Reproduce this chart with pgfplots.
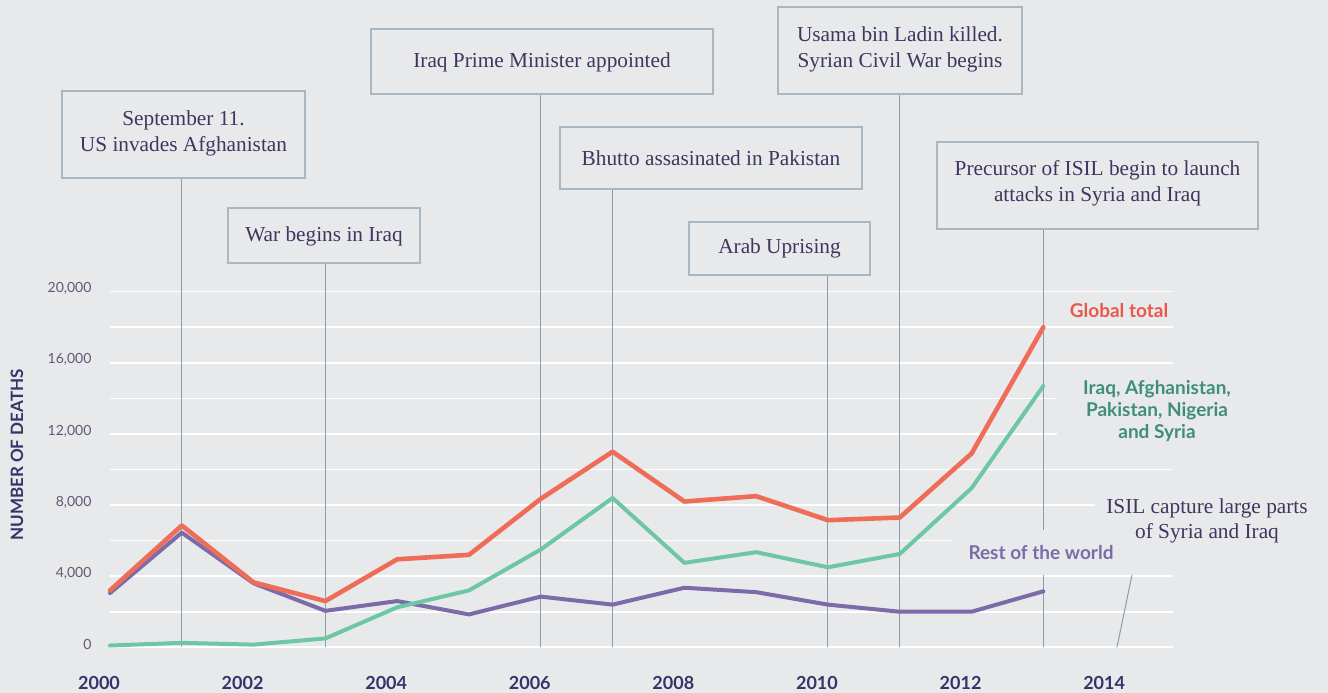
\documentclass[border=0pt]{standalone}
\usepackage{fontspec}
\setmainfont{Liberation Serif}
\newfontfamily\lato{Lato}
\usepackage{pgfplots}
\pgfplotsset{compat=1.18}
\definecolor{bg}{HTML}{E8E9EB}
\definecolor{redl}{HTML}{EE6C58}
\definecolor{greenl}{HTML}{6DC7A4}
\definecolor{purpl}{HTML}{7B6BA8}
\definecolor{navy}{HTML}{35346A}
\definecolor{boxtext}{HTML}{3D3660}
\definecolor{ticklab}{HTML}{5F5A75}
\definecolor{boxline}{HTML}{A8B7C4}
\definecolor{vline}{HTML}{8A9CAE}
\definecolor{greentxt}{HTML}{3F8E79}
\definecolor{redtxt}{HTML}{E9584A}
\tikzset{
  evbox/.style={draw=boxline, line width=1.2pt, fill=bg},
  evtext/.style={text=boxtext, font=\fontsize{21.3}{26}\selectfont, align=center, inner sep=0pt},
  lab/.style={font=\lato\bfseries\fontsize{19}{22}\selectfont, align=center},
  vl/.style={draw=vline, line width=1pt}
}
\begin{document}
\begin{tikzpicture}[x=1pt,y=1pt]
\fill[bg] (0,0) rectangle (1328,693);
\useasboundingbox (0,0) rectangle (1328,693);
\begin{axis}[at={(110pt,45.7pt)}, anchor=south west, scale only axis,
  width=1062.6pt, height=355.6pt,
  xmin=2000, xmax=2014.8, ymin=0, ymax=20000,
  axis line style={draw=none}, major tick length=0pt, minor tick length=0pt,
  xtick={2000,2002,...,2014},
  xticklabels={2000,2002,2004,2006,2008,2010,2012,2014},
  ytick={0,4000,...,20000},
  yticklabels={0,{4,000},{8,000},{12,000},{16,000},{20,000}},
  minor ytick={2000,6000,...,18000},
  ymajorgrids, yminorgrids,
  major grid style={white, line width=1.6pt},
  minor grid style={white, line width=1.6pt},
  xticklabel style={font=\lato\bfseries\fontsize{18}{18}\selectfont, text=navy, anchor=base, xshift=-11pt, yshift=-42pt},
  yticklabel style={font=\lato\fontsize{14}{14}\selectfont, text=ticklab, anchor=east, xshift=-15pt, yshift=3pt},
  scaled y ticks=false, clip=false]
\draw[vl] (axis cs:2001,0) -- (axis cs:2001,26394);
\draw[vl] (axis cs:2003,0) -- (axis cs:2003,21613);
\draw[vl] (axis cs:2006,0) -- (axis cs:2006,31118);
\draw[vl] (axis cs:2007,0) -- (axis cs:2007,25775);
\draw[vl] (axis cs:2010,0) -- (axis cs:2010,20938);
\draw[vl] (axis cs:2011,0) -- (axis cs:2011,31118);
\draw[vl] (axis cs:2013,0) -- (axis cs:2013,4066);
\draw[vl] (axis cs:2013,6597) -- (axis cs:2013,23525);
\draw[vl] (axis cs:2014.025,0) -- (axis cs:2014.234,4066);
% Rest of the world
\addplot[purpl, line width=4pt, line join=round, line cap=round] coordinates {
(2000,3050) (2001,6450) (2002,3600) (2003,2050) (2004,2600) (2005,1850) (2006,2850)
(2007,2400) (2008,3350) (2009,3100) (2010,2400) (2011,2000) (2012,2000) (2013,3150)};
% Five countries
\addplot[greenl, line width=4pt, line join=round, line cap=round] coordinates {
(2000,100) (2001,250) (2002,150) (2003,500) (2004,2250) (2005,3200) (2006,5500)
(2007,8400) (2008,4750) (2009,5350) (2010,4500) (2011,5250) (2012,8950) (2013,14700)};
% Global total
\addplot[redl, line width=4.6pt, line join=round, line cap=round] coordinates {
(2000,3200) (2001,6850) (2002,3650) (2003,2600) (2004,4950) (2005,5200) (2006,8350)
(2007,11000) (2008,8200) (2009,8500) (2010,7150) (2011,7300) (2012,10900) (2013,18000)};
\end{axis}
% y axis title
\node[rotate=90, font=\lato\bfseries\fontsize{17}{17}\selectfont, text=navy] at (17,238) {NUMBER OF DEATHS};
% event boxes
\draw[evbox] (62,515) rectangle (305,602);
\node[evtext] at (183.5,560) {September 11.\\US invades Afghanistan};
\draw[evbox] (228,430) rectangle (420,485);
\node[evtext] at (324,457) {War begins in Iraq};
\draw[evbox] (371,599) rectangle (713,664);
\node[evtext] at (542,631) {Iraq Prime Minister appointed};
\draw[evbox] (560,504) rectangle (862,566);
\node[evtext] at (711,535) {Bhutto assasinated in Pakistan};
\draw[evbox] (689,418) rectangle (870,471);
\node[evtext] at (779.5,445) {Arab Uprising};
\draw[evbox] (778,599) rectangle (1022,686);
\node[evtext] at (900,644) {Usama bin Ladin killed.\\Syrian Civil War begins};
\draw[evbox] (937,464) rectangle (1258,551);
\node[evtext] at (1097.5,509.5) {Precursor of ISIL begin to launch\\attacks in Syria and Iraq};
% series labels
\node[lab, text=redtxt] at (1119,382) {Global total};
\node[lab, text=greentxt, fill=bg, minimum width=200pt, inner ysep=4pt] at (1157,282) {Iraq, Afghanistan,\\Pakistan, Nigeria\\and Syria};
\node[evtext, fill=bg, minimum width=225pt, minimum height=56pt, font=\fontsize{21.3}{25}\selectfont] at (1207,172) {ISIL capture large parts\\of Syria and Iraq};
\node[lab, text=purpl, fill=bg, minimum width=178pt, minimum height=45pt] at (1041,140) {Rest of the world};
\end{tikzpicture}
\end{document}
